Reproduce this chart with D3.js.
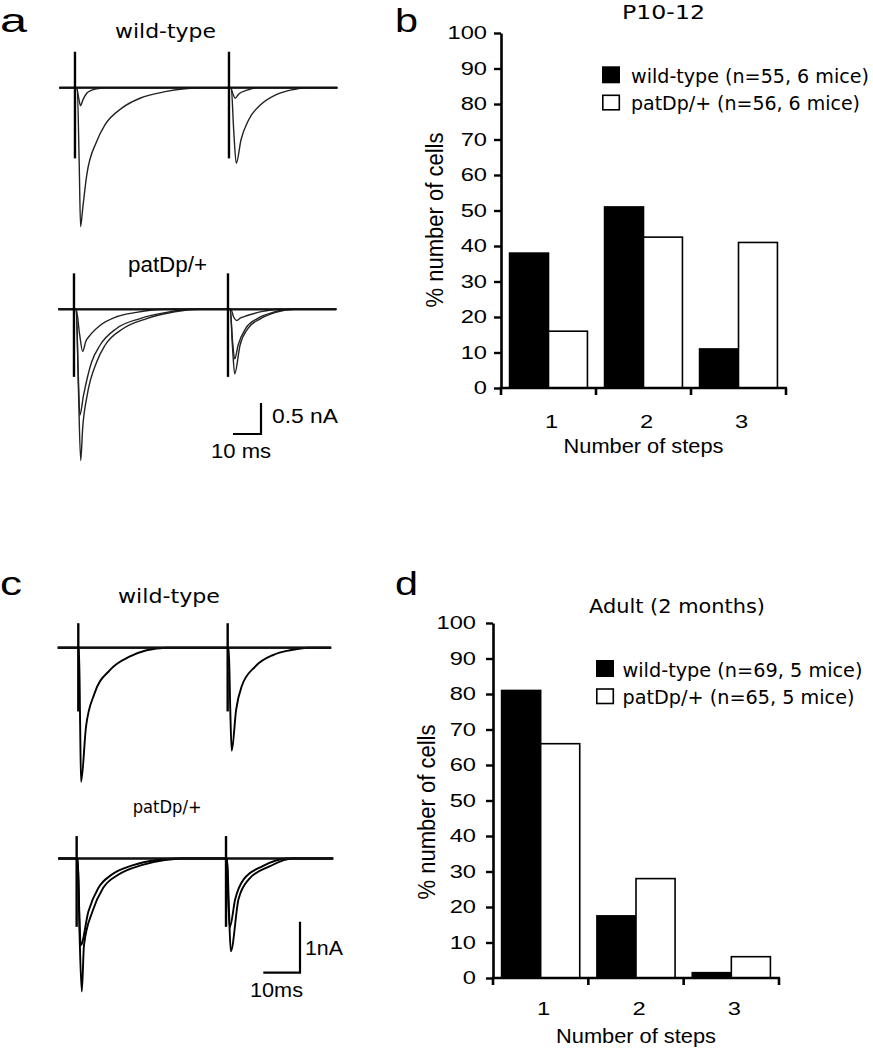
<!DOCTYPE html>
<html><head><meta charset="utf-8">
<script src="https://cdn.jsdelivr.net/npm/d3@7"></script>
<style>body{margin:0;background:#fff} svg{display:block;background:#fff}</style>
</head><body>
<svg id="fig" width="873" height="1050"></svg>
<script>
// ================= bar chart data =================
const steps = ["1", "2", "3"];
const yTicks = [0, 10, 20, 30, 40, 50, 60, 70, 80, 90, 100];
const seriesNames = ["wild-type", "patDp/+"];
const p1012WT  = [38, 51, 11];
const p1012Pat = [16, 42.5, 41];
const adultWT  = [81, 17.5, 1.5];
const adultPat = [66, 28, 6];
const p1012Legend = ["wild-type (n=55, 6 mice)", "patDp/+ (n=56, 6 mice)"];
const adultLegend = ["wild-type (n=69, 5 mice)", "patDp/+ (n=65, 5 mice)"];

// ================= trace data =================
// stimulus times and sweep length (ms); responses as [ms after stimulus, nA]
const aStimWT = [5.6, 60.6], aDurWT = 99.3;
const aStimPat = [5.6, 60.6], aDurPat = 99.3;
const cStimWT = [5.6, 46.3], cDurWT = 74.5;
const cStimPat = [5.0, 45.7], cDurPat = 74.9;
// stimulus artifact [up, down] (nA)
const aArtWT = [0.58, -1.14], aArtPat = [0.58, -1.09];
const cArtWT = [0.48, -1.25], cArtPat = [0.44, -1.34];

// P10-12 wild-type
const aWTsmall1 = [[0.6,0],[1.3,-0.16],[2.0,-0.29],[2.8,-0.2],[4.2,-0.09],[6,-0.04],[7.7,-0.02],[11,0]];
const aWTsmall2 = [[0.6,0],[1.4,-0.1],[2.2,-0.17],[3.5,-0.1],[6.4,-0.04],[10,0]];
const aWTbig1 = [[0.8,0],[1.5,-1.2],[2.0,-2.24],[2.75,-1.95],[4.2,-1.41],[7.7,-0.87],[10.7,-0.6],[16.7,-0.33],[23.2,-0.17],[32.7,-0.06],[45,0]];
const aWTbig2 = [[0.8,0],[1.7,-0.7],[2.6,-1.22],[4.3,-0.84],[7,-0.52],[11.2,-0.28],[16.5,-0.12],[21.9,-0.04],[28,0]];
// P10-12 patDp/+
const aPatSmall1 = [[0.8,0],[2.0,-0.4],[3.1,-0.68],[4.2,-0.52],[5.7,-0.42],[9.3,-0.26],[15.2,-0.12],[22.3,-0.05],[32,0]];
const aPatSmall2 = [[1.0,0],[2.0,-0.12],[3.1,-0.18],[4.5,-0.14],[6.9,-0.1],[12.9,-0.03],[18,0]];
const aPatMed1 = [[0.8,0],[1.5,-1.0],[2.1,-1.71],[3.4,-1.39],[6.3,-0.85],[9.3,-0.58],[15.2,-0.31],[23.6,-0.15],[33,-0.05],[42,0]];
const aPatMed2 = [[0.8,0],[1.6,-0.5],[2.4,-0.8],[3.6,-0.58],[6.3,-0.31],[10.5,-0.15],[16,-0.05],[22,0]];
const aPatBig1 = [[0.8,0],[1.6,-1.3],[2.4,-2.44],[3.1,-1.92],[4.7,-1.39],[8.1,-0.85],[11.1,-0.58],[17.6,-0.31],[26,-0.15],[36,-0.04],[45,0]];
const aPatBig2 = [[0.8,0],[1.6,-0.6],[2.4,-1.04],[4.3,-0.58],[7.1,-0.31],[11.7,-0.15],[17,-0.05],[24,0]];
// Adult wild-type
const cWTbig1 = [[0.2,0],[0.5,-1.5],[0.75,-2.63],[2.1,-1.55],[4.4,-0.9],[8.6,-0.44],[14.1,-0.17],[18.6,-0.05],[24,0]];
const cWTbig2 = [[0.3,0],[0.7,-1.2],[1.1,-2.02],[2.3,-1.22],[3.8,-0.76],[7.5,-0.37],[12.5,-0.14],[17,-0.05],[22,0]];
// Adult patDp/+
const cPatMed1 = [[0.3,0],[0.7,-1.0],[1.1,-1.7],[3.2,-1.04],[5.9,-0.58],[9.5,-0.32],[15.4,-0.13],[22,-0.03],[27,0]];
const cPatMed2 = [[0.3,0],[0.6,-0.8],[1.0,-1.35],[2.5,-0.8],[4.8,-0.41],[10,-0.15],[16.5,0]];
const cPatBig1 = [[0.3,0],[0.8,-1.5],[1.4,-2.61],[2.0,-1.7],[4.3,-1.04],[7.2,-0.58],[11.3,-0.32],[17.7,-0.13],[24,-0.03],[29,0]];
const cPatBig2 = [[0.3,0],[0.8,-1.0],[1.3,-1.82],[3.4,-0.8],[6.2,-0.41],[12,-0.15],[18,0]];

// ================= drawing =================
const svg = d3.select("#fig");
const SANS = "'Liberation Sans', Arial, Helvetica, sans-serif";
const WIDE = "'DejaVu Sans', Verdana, sans-serif";

function fit(sel, w) {
  sel.attr("textLength", w).attr("lengthAdjust", "spacingAndGlyphs");
  return sel;
}
function txt(str, x, y, size, fam, w) {
  const t = svg.append("text").attr("x", x).attr("y", y)
    .attr("font-size", size).attr("font-family", fam).attr("fill", "#000").text(str);
  if (w) fit(t, w);
  return t;
}

// ---------- traces ----------
function drawTraces(c) {
  const x = d3.scaleLinear().domain([0, c.dur]).range([c.x0, c.x0 + c.dur * c.pxMs]);
  const y = d3.scaleLinear().domain([0, -1]).range([c.y0, c.y0 + c.pxNa]);
  const g = svg.append("g");
  const line = d3.line().x(d => x(d[0])).y(d => y(d[1])).curve(d3.curveMonotoneX);
  c.sweeps.forEach(sw => {
    const pts = [[0, 0]];
    c.stim.forEach((s, i) => {
      pts.push([s, 0]);
      (sw[i] || []).forEach(([dt, v]) => pts.push([s + dt, v]));
    });
    pts.push([c.dur, 0]);
    g.append("path").attr("d", line(pts)).attr("fill", "none")
      .attr("stroke", c.color).attr("stroke-width", c.sw).attr("stroke-linejoin", "round");
  });
  // baseline emphasis (overlapping sweeps)
  g.append("line").attr("x1", x(0)).attr("x2", x(c.dur)).attr("y1", y(0)).attr("y2", y(0))
    .attr("stroke", "#111").attr("stroke-width", 2.2);
  // stimulus artifacts
  c.stim.forEach(s => {
    g.append("line").attr("x1", x(s)).attr("x2", x(s)).attr("y1", y(c.art[0])).attr("y2", y(c.art[1]))
      .attr("stroke", "#000").attr("stroke-width", 2.4);
  });
  return {x, y};
}

const aWTsc = drawTraces({x0: 59.3, y0: 87.7, pxMs: 2.8, pxNa: 62, stim: aStimWT, dur: aDurWT, art: aArtWT,
  sweeps: [[[], []], [aWTsmall1, aWTsmall2], [aWTbig1, aWTbig2]], color: "#222", sw: 1.4});
const aPatSc = drawTraces({x0: 58.3, y0: 309.3, pxMs: 2.8, pxNa: 62, stim: aStimPat, dur: aDurPat, art: aArtPat,
  sweeps: [[[], []], [aPatSmall1, aPatSmall2], [aPatMed1, aPatMed2], [aPatBig1, aPatBig2]], color: "#222", sw: 1.4});
const cWTsc = drawTraces({x0: 57.75, y0: 647.7, pxMs: 3.67, pxNa: 51, stim: cStimWT, dur: cDurWT, art: cArtWT,
  sweeps: [[[], []], [cWTbig1, cWTbig2]], color: "#000", sw: 1.9});
const cPatSc = drawTraces({x0: 58.3, y0: 858.5, pxMs: 3.67, pxNa: 51, stim: cStimPat, dur: cDurPat, art: cArtPat,
  sweeps: [[[], []], [cPatMed1, cPatMed2], [cPatBig1, cPatBig2]], color: "#000", sw: 1.9});

// scale bars
function scaleBar(sc, cx, cy, ms, na) {
  const w = sc.x(ms) - sc.x(0), h = sc.y(-na) - sc.y(0);
  svg.append("path").attr("d", `M${cx - w},${cy}H${cx}V${cy - h}`)
    .attr("fill", "none").attr("stroke", "#000").attr("stroke-width", 2.2);
}
scaleBar(aPatSc, 261, 434, 10, 0.5);
scaleBar(cPatSc, 300, 972.7, 10, 1);
txt("0.5 nA", 272, 423, 20, SANS, 66);
txt("10 ms", 211, 458, 20, SANS, 60);
txt("1nA", 305, 955, 21, SANS, 38);
txt("10ms", 250, 996.7, 20, SANS, 53);

// trace labels
txt("wild-type", 115, 37.7, 19, WIDE, 101);
txt("patDp/+", 128, 271.7, 22, SANS, 79);
txt("wild-type", 118, 603.3, 19, WIDE, 102);
txt("patDp/+", 132.7, 813.3, 18.5, WIDE, 69);

// panel letters
txt("a", 0, 31.7, 33, SANS, 27);
txt("b", 395, 31.7, 33, SANS, 23);
txt("c", 0, 595, 33, SANS, 22);
txt("d", 395, 595, 33, SANS, 23);

// ---------- bar charts ----------
function drawBars(c) {
  const y = d3.scaleLinear().domain([0, 100]).range([c.bottom, c.top]);
  const x = d3.scaleBand().domain(steps).range([c.left, c.right]).paddingInner(0).paddingOuter(0);
  const xs = d3.scaleBand().domain(seriesNames).range([0, x.bandwidth()]).paddingInner(0).paddingOuter(0.22);
  const g = svg.append("g");
  const vals = [c.wt, c.pat];
  seriesNames.forEach((s, si) => {
    g.selectAll(null).data(steps).enter().append("rect")
      .attr("x", d => x(d) + xs(s)).attr("width", xs.bandwidth())
      .attr("y", (d, i) => y(vals[si][i])).attr("height", (d, i) => y(0) - y(vals[si][i]))
      .attr("fill", si === 0 ? "#000" : "#fff").attr("stroke", "#000").attr("stroke-width", 1.6);
  });
  // y axis
  const ya = g.append("g").attr("transform", `translate(${c.left},0)`)
    .call(d3.axisLeft(y).tickValues(yTicks).tickSize(7).tickSizeOuter(0).tickPadding(c.ypad));
  ya.select(".domain").attr("stroke-width", 2.6).attr("stroke", "#000");
  ya.selectAll(".tick line").attr("stroke-width", 2.4).attr("stroke", "#000");
  ya.selectAll("text").attr("font-size", 18.5).attr("font-family", SANS).attr("fill", "#000")
    .each(function () { const w = this.getComputedTextLength(); fit(d3.select(this), w * 1.28); });
  // x axis (labels centred in each band)
  const xa = g.append("g").attr("transform", `translate(3,${c.bottom})`)
    .call(d3.axisBottom(x).tickSize(0).tickPadding(c.xpad));
  xa.select(".domain").remove();
  xa.selectAll("text").attr("font-size", 18.5).attr("font-family", SANS).attr("fill", "#000")
    .each(function () { const w = this.getComputedTextLength(); fit(d3.select(this), w * 1.28); });
  g.append("line").attr("x1", c.left - 1.3).attr("x2", c.right + 1).attr("y1", c.bottom).attr("y2", c.bottom)
    .attr("stroke", "#000").attr("stroke-width", 2.6);
  const bounds = [c.left].concat(steps.map(d => x(d) + x.bandwidth()));
  g.selectAll(null).data(bounds).enter().append("line")
    .attr("x1", d => d).attr("x2", d => d).attr("y1", c.bottom).attr("y2", c.bottom + 7)
    .attr("stroke", "#000").attr("stroke-width", 2.6);
  // axis titles
  txt("Number of steps", (c.left + c.right) / 2, c.xTitleY, 20, SANS, 160).attr("text-anchor", "middle");
  svg.append("text").attr("transform", `translate(${c.yTitleX},${c.yTitleY}) rotate(-90) scale(1,1.1)`)
    .attr("text-anchor", "middle").attr("font-size", 21).attr("font-family", SANS).attr("fill", "#000")
    .attr("textLength", 175).attr("lengthAdjust", "spacingAndGlyphs").text("% number of cells");
  // title
  txt(c.title, c.titleX, c.titleY, 19, WIDE, c.titleW);
  // legend
  c.legend.forEach((l, i) => {
    const ly = c.legY + i * c.legDy;
    if (i === 0) g.append("rect").attr("x", c.legX).attr("y", ly - 17).attr("width", 18).attr("height", 17).attr("fill", "#000");
    else g.append("rect").attr("x", c.legX + 0.8).attr("y", ly - 15).attr("width", 16.5).attr("height", 14.5)
      .attr("fill", "#fff").attr("stroke", "#000").attr("stroke-width", 1.6);
    txt(l, c.legTX, ly, 19, WIDE, c.legW[i]);
  });
}

drawBars({left: 501, right: 786, top: 33, bottom: 388, wt: p1012WT, pat: p1012Pat, ypad: 7, xpad: 27,
  xTitleY: 453, yTitleX: 443, yTitleY: 220, title: "P10-12", titleX: 622, titleY: 19, titleW: 83,
  legend: p1012Legend, legX: 602, legTX: 631, legY: 83.3, legDy: 27, legW: [238, 229]});
drawBars({left: 493, right: 779, top: 623, bottom: 978, wt: adultWT, pat: adultPat, ypad: 10, xpad: 24,
  xTitleY: 1043, yTitleX: 435, yTitleY: 812, title: "Adult (2 months)", titleX: 589, titleY: 613, titleW: 176,
  legend: adultLegend, legX: 596, legTX: 622.5, legY: 677, legDy: 27, legW: [240, 232]});
</script>
</body></html>
